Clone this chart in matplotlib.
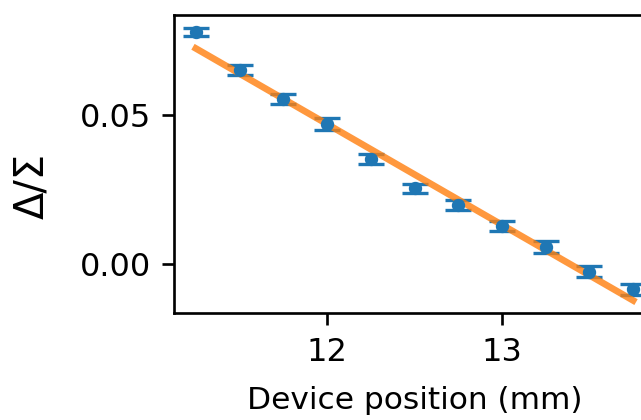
import matplotlib
matplotlib.use("Agg")
import matplotlib.pyplot as plt
import numpy as np

# Measured asymmetry ratio vs. device position
position_mm = [11.25, 11.50, 11.75, 12.00, 12.25, 12.50, 12.75, 13.00, 13.25, 13.50, 13.75]
ratio = [0.0777, 0.0650, 0.0554, 0.0469, 0.0353, 0.0254, 0.0199, 0.0128, 0.0059, -0.0025, -0.0084]
ratio_err = [0.0013, 0.0016, 0.0018, 0.0020, 0.0017, 0.0016, 0.0018, 0.0018, 0.0020, 0.0018, 0.0018]

# Linear fit parameters (slope per mm, intercept)
fit_slope = -0.03376
fit_intercept = 0.4521

fig = plt.figure(figsize=(641 / 240, 420 / 240), dpi=240)
ax = fig.add_axes([174 / 641, 1 - 313.3 / 420, 481 / 641, 298.3 / 420])

ax.errorbar(position_mm, ratio, yerr=ratio_err, fmt='.', color='C0',
            capsize=4, elinewidth=1.0, capthick=1.0)

x_fit = np.array([min(position_mm), max(position_mm)])
ax.plot(x_fit, fit_intercept + fit_slope * x_fit, color='C1', lw=2, alpha=0.8)

ax.set_xlim(11.125, 13.875)
ax.set_ylim(-0.0164, 0.0835)
ax.set_xticks([12, 13])
ax.set_yticks([0.00, 0.05])
ax.set_yticklabels(['0.00', '0.05'])
ax.tick_params(labelsize=9.6)

ax.set_xlabel('Device position (mm)', fontsize=9.4, labelpad=5.5)
ax.set_ylabel('Δ/Σ', fontsize=12)
ax.yaxis.set_label_coords(-0.254, 0.426)

fig.savefig('out.png', dpi=240)
